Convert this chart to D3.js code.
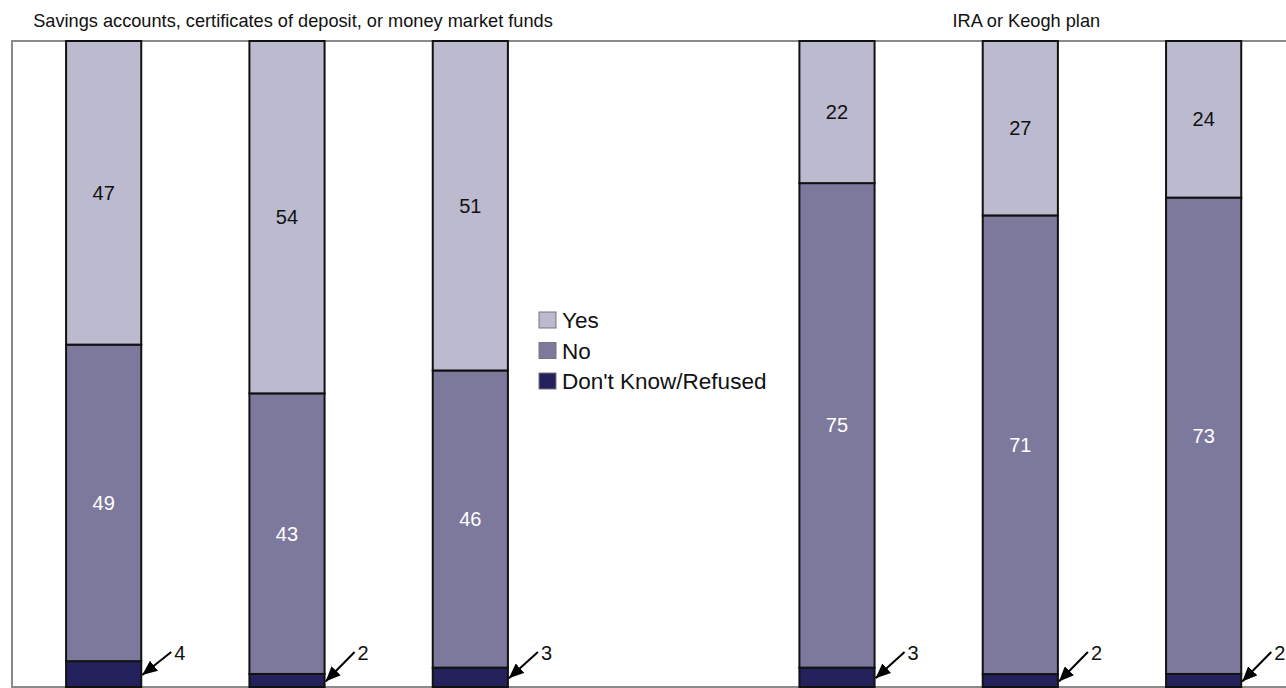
<!DOCTYPE html>
<html>
<head>
<meta charset="utf-8">
<script src="https://cdn.jsdelivr.net/npm/d3@7"></script>
<style>
  html, body { margin: 0; padding: 0; background: #fff; }
  svg { display: block; font-family: "Liberation Sans", Arial, sans-serif; }
</style>
</head>
<body>
<svg id="chart" width="1286" height="688"></svg>
<script>
// ---- data ----
const groupTitles = ["Savings accounts, certificates of deposit, or money market funds", "IRA or Keogh plan"];
const seriesNames = ["Yes", "No", "Don't Know/Refused"];
const barGroups = [0, 0, 0, 1, 1, 1];
const yesValues = [47, 54, 51, 22, 27, 24];
const noValues  = [49, 43, 46, 75, 71, 73];
const dkValues  = [4, 2, 3, 3, 2, 2];
const seriesColors = ["#bbbace", "#7d799c", "#25215c"];

// ---- layout ----
const svg = d3.select("#chart");
const plotLeft = 12, plotTop = 41, plotBottom = 687;
const slotCount = 7;
const slotWidth = 183.33;

const rows = yesValues.map((v, i) => ({
  slot: barGroups[i] * 4 + (i % 3),
  "Yes": v,
  "No": noValues[i],
  "Don't Know/Refused": dkValues[i]
}));

const x = d3.scaleBand()
  .domain(d3.range(slotCount))
  .range([plotLeft, plotLeft + slotCount * slotWidth])
  .paddingInner(0.59)
  .paddingOuter(0.295);

const y = d3.scaleLinear().domain([0, 1]).range([plotBottom, plotTop]);

const color = d3.scaleOrdinal().domain(seriesNames).range(seriesColors);

const stack = d3.stack()
  .keys(["Don't Know/Refused", "No", "Yes"])
  .offset(d3.stackOffsetExpand);
const stacked = stack(rows);

// frame
svg.append("rect")
  .attr("x", plotLeft).attr("y", plotTop)
  .attr("width", 1400).attr("height", plotBottom - plotTop)
  .attr("fill", "none").attr("stroke", "#8a8a8a").attr("stroke-width", 2);

// group titles
groupTitles.forEach((t, g) => {
  svg.append("text")
    .attr("x", x.bandwidth() / 2 + x(g * 4 + 1) + 6)
    .attr("y", 27)
    .attr("text-anchor", "middle")
    .attr("font-size", 18.2)
    .attr("fill", "#111")
    .text(t);
});

// bars
const layers = svg.append("g").selectAll("g")
  .data(stacked).join("g")
  .attr("fill", d => color(d.key));

layers.selectAll("rect")
  .data(d => d.map(p => ({ p, key: d.key })))
  .join("rect")
  .attr("x", d => x(d.p.data.slot))
  .attr("width", x.bandwidth())
  .attr("y", d => y(d.p[1]))
  .attr("height", d => y(d.p[0]) - y(d.p[1]))
  .attr("stroke", "#111")
  .attr("stroke-width", 2);

// inside labels for Yes and No
stacked.filter(s => s.key !== "Don't Know/Refused").forEach(s => {
  svg.append("g").selectAll("text")
    .data(s).join("text")
    .attr("x", d => x(d.data.slot) + x.bandwidth() / 2)
    .attr("y", d => (y(d[0]) + y(d[1])) / 2)
    .attr("dy", "0.35em")
    .attr("text-anchor", "middle")
    .attr("font-size", 20)
    .attr("fill", s.key === "Yes" ? "#111" : "#ffffff")
    .text(d => d.data[s.key]);
});

// arrow annotations for Don't Know/Refused
const defs = svg.append("defs");
defs.append("marker")
  .attr("id", "arrowhead")
  .attr("viewBox", "0 0 14 12")
  .attr("refX", 14).attr("refY", 6)
  .attr("markerWidth", 15).attr("markerHeight", 13)
  .attr("markerUnits", "userSpaceOnUse")
  .attr("orient", "auto")
  .append("path")
  .attr("d", "M0,0 L14,6 L0,12 Z")
  .attr("fill", "#000");

const dkLayer = stacked.find(s => s.key === "Don't Know/Refused");
const ann = svg.append("g").selectAll("g").data(dkLayer).join("g");
ann.append("line")
  .attr("x1", d => x(d.data.slot) + x.bandwidth() + 30)
  .attr("y1", 652)
  .attr("x2", d => x(d.data.slot) + x.bandwidth() + 1)
  .attr("y2", d => (y(d[0]) + y(d[1])) / 2 + 1)
  .attr("stroke", "#000")
  .attr("stroke-width", 2)
  .attr("marker-end", "url(#arrowhead)");
ann.append("text")
  .attr("x", d => x(d.data.slot) + x.bandwidth() + 33)
  .attr("y", 660)
  .attr("font-size", 20)
  .attr("fill", "#111")
  .text(d => d.data["Don't Know/Refused"]);

// legend
const legend = svg.append("g").attr("transform", "translate(539,312)");
seriesNames.forEach((name, i) => {
  const g = legend.append("g").attr("transform", `translate(0,${i * 30.5})`);
  g.append("rect")
    .attr("width", 17).attr("height", 16)
    .attr("fill", color(name))
    .attr("stroke", "#777").attr("stroke-width", 1);
  g.append("text")
    .attr("x", 23).attr("y", 16)
    .attr("font-size", 22.5)
    .attr("fill", "#111")
    .text(name);
});
</script>
</body>
</html>
